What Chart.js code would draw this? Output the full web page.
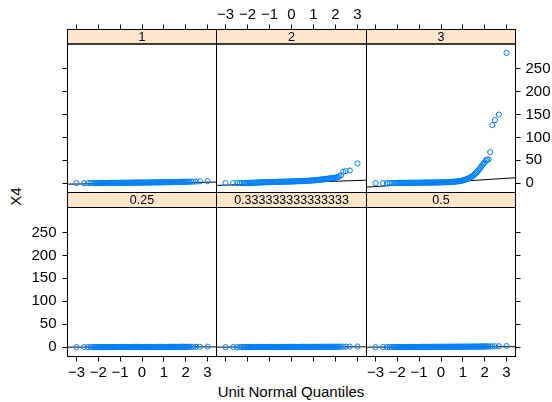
<!DOCTYPE html>
<html>
<head>
<meta charset="utf-8">
<script src="https://cdn.jsdelivr.net/npm/chart.js@4.4.0/dist/chart.umd.min.js"></script>
<style>
  html, body { margin: 0; padding: 0; background: #fff; }
  #wrap { position: relative; width: 552px; height: 402px; overflow: hidden; }
  #wrap canvas { position: absolute; left: 0; top: 0; }
  .title { position: absolute; font-family: "Liberation Sans", Arial, sans-serif; font-size: 15px; color: #000; white-space: nowrap; }
</style>
</head>
<body>
<div id="wrap">
  <div class="title" id="xlab" style="left:67px;width:448px;top:383px;text-align:center;">Unit Normal Quantiles</div>
  <div class="title" id="ylab" style="left:0px;top:188px;width:30px;text-align:center;transform:rotate(-90deg);">X4</div>
</div>
<script>
// unit normal quantiles (shared by every panel)
const quantiles = [
  -3.00, -2.65, -2.47, -2.35, -2.25, -2.17, -2.11, -2.05, -2.00,
  -1.95, -1.9, -1.85, -1.8, -1.75, -1.7, -1.65, -1.6, -1.55, -1.5,
  -1.45, -1.4, -1.35, -1.3, -1.25, -1.2, -1.15, -1.1, -1.05, -1.0,
  -0.95, -0.9, -0.85, -0.8, -0.75, -0.7, -0.65, -0.6, -0.55, -0.5,
  -0.45, -0.4, -0.35, -0.3, -0.25, -0.2, -0.15, -0.1, -0.05,
  0, 0.05, 0.1, 0.15, 0.2, 0.25, 0.3, 0.35, 0.4, 0.45,
  0.5, 0.55, 0.6, 0.65, 0.7, 0.75, 0.8, 0.85, 0.9, 0.95,
  1.0, 1.05, 1.1, 1.15, 1.2, 1.25, 1.3, 1.35, 1.4, 1.45,
  1.5, 1.55, 1.6, 1.65, 1.7, 1.75, 1.8, 1.85, 1.9, 1.95,
  2.00, 2.05, 2.11, 2.17, 2.25, 2.35, 2.47, 2.65, 3.00
];

// X4 sorted values, one list per panel
const x4_025 = [
  0, 0, 0, 0, 0, 0, 0.1, 0.1, 0.1,
  0.1, 0.1, 0.1, 0.1, 0.1, 0.1, 0.1, 0.1, 0.1, 0.1,
  0.2, 0.2, 0.2, 0.2, 0.2, 0.2, 0.2, 0.2, 0.2, 0.2,
  0.2, 0.2, 0.2, 0.2, 0.2, 0.2, 0.2, 0.2, 0.2, 0.3,
  0.3, 0.3, 0.3, 0.3, 0.3, 0.3, 0.3, 0.3, 0.3,
  0.3, 0.3, 0.3, 0.3, 0.3, 0.3, 0.3, 0.3, 0.3, 0.3,
  0.4, 0.4, 0.4, 0.4, 0.4, 0.4, 0.4, 0.4, 0.4, 0.4,
  0.4, 0.4, 0.4, 0.4, 0.4, 0.4, 0.4, 0.4, 0.4, 0.4,
  0.5, 0.5, 0.5, 0.5, 0.5, 0.5, 0.5, 0.5, 0.5, 0.5,
  0.5, 0.5, 0.6, 0.6, 0.6, 0.7, 0.7, 0.8, 1.0
];
const x4_033 = [
  0, 0, 0, 0, 0, 0.1, 0.1, 0.1, 0.1,
  0.1, 0.1, 0.1, 0.1, 0.1, 0.2, 0.2, 0.2, 0.2, 0.2,
  0.2, 0.2, 0.2, 0.2, 0.2, 0.2, 0.3, 0.3, 0.3, 0.3,
  0.3, 0.3, 0.3, 0.3, 0.3, 0.3, 0.3, 0.3, 0.3, 0.3,
  0.3, 0.3, 0.3, 0.4, 0.4, 0.4, 0.4, 0.4, 0.4,
  0.4, 0.4, 0.4, 0.4, 0.4, 0.4, 0.4, 0.4, 0.4, 0.4,
  0.5, 0.5, 0.5, 0.5, 0.5, 0.5, 0.5, 0.5, 0.5, 0.5,
  0.5, 0.5, 0.5, 0.5, 0.6, 0.6, 0.6, 0.6, 0.6, 0.6,
  0.6, 0.6, 0.6, 0.6, 0.7, 0.7, 0.7, 0.7, 0.7, 0.7,
  0.7, 0.8, 0.8, 0.8, 0.9, 0.9, 1.0, 1.1, 1.3
];
const x4_05 = [
  0, 0, 0, 0.1, 0.1, 0.1, 0.1, 0.1, 0.2,
  0.2, 0.2, 0.2, 0.2, 0.2, 0.2, 0.2, 0.3, 0.3, 0.3,
  0.3, 0.3, 0.3, 0.3, 0.3, 0.4, 0.4, 0.4, 0.4, 0.4,
  0.4, 0.4, 0.4, 0.5, 0.5, 0.5, 0.5, 0.5, 0.5, 0.5,
  0.5, 0.6, 0.6, 0.6, 0.6, 0.6, 0.6, 0.6, 0.6,
  0.7, 0.7, 0.7, 0.7, 0.7, 0.7, 0.7, 0.7, 0.8, 0.8,
  0.8, 0.8, 0.8, 0.8, 0.8, 0.8, 0.9, 0.9, 0.9, 0.9,
  0.9, 0.9, 0.9, 1.0, 1.0, 1.0, 1.0, 1.0, 1.0, 1.1,
  1.1, 1.1, 1.1, 1.1, 1.2, 1.2, 1.2, 1.2, 1.3, 1.3,
  1.3, 1.4, 1.4, 1.5, 1.5, 1.6, 1.7, 1.9, 2.3
];
const x4_1 = [
  0, 0, 0.1, 0.1, 0.1, 0.2, 0.2, 0.2, 0.2,
  0.3, 0.3, 0.3, 0.3, 0.4, 0.4, 0.4, 0.4, 0.5, 0.5,
  0.5, 0.5, 0.6, 0.6, 0.6, 0.6, 0.7, 0.7, 0.7, 0.7,
  0.8, 0.8, 0.8, 0.8, 0.9, 0.9, 0.9, 0.9, 1.0, 1.0,
  1.0, 1.0, 1.1, 1.1, 1.1, 1.1, 1.2, 1.2, 1.2,
  1.2, 1.3, 1.3, 1.3, 1.4, 1.4, 1.4, 1.5, 1.5, 1.5,
  1.6, 1.6, 1.6, 1.7, 1.7, 1.7, 1.8, 1.8, 1.8, 1.9,
  1.9, 2.0, 2.0, 2.1, 2.1, 2.2, 2.2, 2.3, 2.3, 2.4,
  2.4, 2.5, 2.5, 2.6, 2.6, 2.7, 2.7, 2.8, 2.8, 2.9,
  2.9, 3.0, 3.0, 3.1, 3.2, 3.3, 3.5, 3.8, 4.4
];
const x4_2 = [
  0, 0.1, 0.1, 0.2, 0.2, 0.3, 0.3, 0.3, 0.4,
  0.5, 0.6, 0.7, 0.8, 0.9, 1.0, 1.1, 1.2, 1.3, 1.4,
  1.5, 1.5, 1.6, 1.7, 1.8, 1.9, 2.0, 2.1, 2.2, 2.3,
  2.3, 2.4, 2.5, 2.5, 2.6, 2.7, 2.7, 2.8, 2.9, 3.0,
  3.0, 3.1, 3.2, 3.2, 3.3, 3.4, 3.4, 3.5, 3.5,
  3.6, 3.7, 3.8, 3.9, 4.0, 4.1, 4.2, 4.3, 4.4, 4.5,
  4.6, 4.7, 4.8, 4.9, 5.0, 5.1, 5.3, 5.5, 5.7, 5.9,
  6.0, 6.2, 6.4, 6.7, 7.0, 7.3, 7.6, 7.9, 8.2, 8.5,
  8.8, 9.0, 9.3, 9.6, 10.0, 10.3, 10.6, 10.9, 11.2, 11.5,
  12.0, 12.5, 13.5, 15.0, 17.5, 24.9, 26.2, 27.7, 43.0
];
const x4_3 = [
  0.1, 0.2, 0.2, 0.3, 0.3, 0.3, 0.4, 0.4, 0.4,
  0.5, 0.5, 0.5, 0.5, 0.6, 0.6, 0.6, 0.6, 0.7, 0.7,
  0.7, 0.7, 0.8, 0.8, 0.8, 0.8, 0.9, 0.9, 0.9, 0.9,
  1.0, 1.0, 1.0, 1.1, 1.1, 1.1, 1.2, 1.2, 1.2, 1.3,
  1.3, 1.3, 1.4, 1.4, 1.4, 1.5, 1.5, 1.5, 1.6,
  1.6, 1.7, 1.8, 1.9, 2.0, 2.1, 2.2, 2.3, 2.4, 2.6,
  2.8, 3.0, 3.2, 3.4, 3.6, 3.8, 4.1, 4.4, 4.8, 5.3,
  6.0, 6.7, 7.5, 8.2, 9.0, 10.2, 11.5, 12.7, 14.0, 15.7,
  17.5, 19.7, 22.0, 24.5, 27.0, 30.0, 33.0, 36.5, 40.0, 43.0,
  45.0, 50.0, 51.0, 52.0, 68.0, 127.0, 138.0, 150.0, 285.0
];

// reference line (qqline) for each panel: intercept and slope
const qqIntercept = { p025: 0.2, p033: 0.3, p05: 0.4, p1: 0.0, p2: 0.75, p3: 1.55 };
const qqSlope     = { p025: 0.08, p033: 0.1, p05: 0.15, p1: 0.65, p2: 1.69, p3: 3.0 };

const stripLabels = ['0.25', '0.333333333333333', '0.5', '1', '2', '3'];
const xTicks = [-3, -2, -1, 0, 1, 2, 3];
const yTicks = [0, 50, 100, 150, 200, 250];

// ---- layout (pixels) ----
const FONT = '"Liberation Sans", Arial, sans-serif';
const cols = [67.5, 216.5, 366.5, 515.5];
const rows = [
  { top: 29.5, strip: 44, bottom: 192.5 },   // upper row
  { top: 192.5, strip: 207.5, bottom: 356.5 } // lower row
];
const X_MIN = -3.41, X_MAX = 3.41, Y_MIN = -20.5, Y_MAX = 304.5;
const AXW = 45, AXH = 32;

const panels = [
  { ys: x4_1,   key: 'p1',   strip: stripLabels[3], col: 0, row: 0 },
  { ys: x4_2,   key: 'p2',   strip: stripLabels[4], col: 1, row: 0 },
  { ys: x4_3,   key: 'p3',   strip: stripLabels[5], col: 2, row: 0 },
  { ys: x4_025, key: 'p025', strip: stripLabels[0], col: 0, row: 1 },
  { ys: x4_033, key: 'p033', strip: stripLabels[1], col: 1, row: 1 },
  { ys: x4_05,  key: 'p05',  strip: stripLabels[2], col: 2, row: 1 }
];

function fmt(v) {
  return v < 0 ? '\u2212' + Math.abs(v) : String(v);
}

function xAxis(pos, show, labels) {
  const ax = {
    type: 'linear', position: pos, display: show, min: X_MIN, max: X_MAX,
    afterBuildTicks: s => { s.ticks = xTicks.map(v => ({ value: v })); },
    grid: { drawOnChartArea: false, drawTicks: true, tickLength: 5, color: '#000', lineWidth: 1 },
    border: { display: false },
    ticks: { display: labels, padding: pos === 'top' ? 1 : 2, color: '#000', maxRotation: 0, autoSkip: false,
             font: { family: FONT, size: 15 }, callback: fmt }
  };
  if (show) ax.afterFit = s => { s.height = AXH; };
  return ax;
}

function yAxis(pos, show, labels, yMax) {
  const ax = {
    type: 'linear', position: pos, display: show, min: Y_MIN, max: yMax,
    afterBuildTicks: s => { s.ticks = yTicks.map(v => ({ value: v })); },
    grid: { drawOnChartArea: false, drawTicks: true, tickLength: 5, color: '#000', lineWidth: 1 },
    border: { display: false },
    ticks: { display: labels, padding: pos === 'left' ? 6 : 5, color: '#000', autoSkip: false,
             font: { family: FONT, size: 15 }, callback: fmt }
  };
  if (show) ax.afterFit = s => { s.width = AXW; };
  return ax;
}

const stripPlugin = {
  id: 'strip',
  afterDraw(chart, args, opts) {
    const { ctx, chartArea } = chart;
    const l = chartArea.left, r = chartArea.right;
    ctx.save();
    ctx.fillStyle = '#ffe5cc';
    ctx.fillRect(l, opts.top, r - l, opts.strip - opts.top);
    ctx.strokeStyle = '#000';
    ctx.lineWidth = 1;
    ctx.strokeRect(l, opts.top, r - l, opts.strip - opts.top);
    ctx.strokeRect(l, opts.strip, r - l, opts.bottom - opts.strip);
    ctx.fillStyle = '#000';
    ctx.font = '12.5px ' + FONT;
    ctx.textAlign = 'center';
    ctx.textBaseline = 'middle';
    ctx.fillText(opts.label, (l + r) / 2, (opts.top + opts.strip) / 2 + 0.5);
    ctx.restore();
  }
};

const wrap = document.getElementById('wrap');

panels.forEach(p => {
  const canvas = document.createElement('canvas');
  canvas.width = 552;
  canvas.height = 402;
  wrap.appendChild(canvas);

  const row = rows[p.row];
  const hasL = p.col === 0, hasR = p.col === 2, hasT = p.row === 0, hasB = p.row === 1;
  const plotH = row.bottom - row.strip;
  // the strip sits inside the chart area, above the plotted range
  const yMax = Y_MAX + (row.strip - row.top) * (Y_MAX - Y_MIN) / plotH;

  const pts = quantiles.map((q, i) => ({ x: q, y: p.ys[i] }));
  const a = qqIntercept[p.key], b = qqSlope[p.key];
  const line = [X_MIN, X_MAX].map(x => ({ x: x, y: a + b * x }));

  new Chart(canvas.getContext('2d'), {
    type: 'scatter',
    data: {
      datasets: [
        {
          data: pts,
          pointStyle: 'circle',
          pointRadius: 2.6,
          borderWidth: 1,
          borderColor: '#0080ff',
          backgroundColor: 'rgba(0,0,0,0)'
        },
        {
          type: 'line',
          data: line,
          borderColor: '#000',
          borderWidth: 1,
          pointRadius: 0,
          fill: false
        }
      ]
    },
    options: {
      responsive: false,
      animation: false,
      events: [],
      layout: {
        padding: {
          left: cols[p.col] - (hasL ? AXW : 0),
          right: 552 - cols[p.col + 1] - (hasR ? AXW : 0),
          top: row.top - (hasT ? AXH : 0),
          bottom: 402 - row.bottom - (hasB ? AXH : 0)
        }
      },
      scales: {
        x: xAxis('bottom', hasB, p.col !== 1),
        xt: xAxis('top', hasT, p.col === 1),
        y: yAxis('left', hasL, p.row === 1, yMax),
        yr: yAxis('right', hasR, p.row === 0, yMax)
      },
      plugins: {
        legend: { display: false },
        tooltip: { enabled: false },
        strip: { label: p.strip, top: row.top, strip: row.strip, bottom: row.bottom }
      }
    },
    plugins: [stripPlugin]
  });
});
</script>
</body>
</html>
